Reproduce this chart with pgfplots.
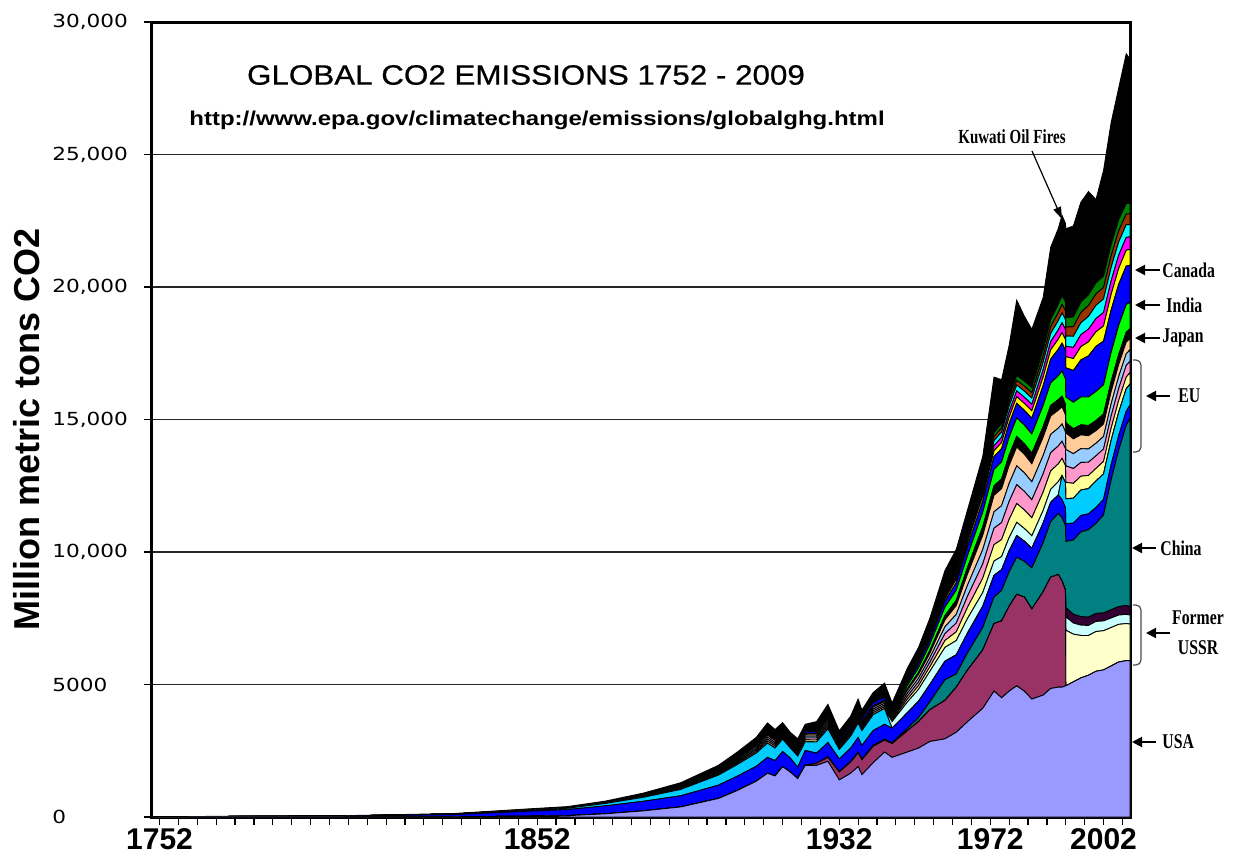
\documentclass[border=0pt]{standalone}
\usepackage{fontspec}
\setmainfont{Liberation Sans}
\newfontfamily\wsans[FakeStretch=1.2]{Liberation Sans}
\newfontfamily\tsans[FakeStretch=1.12, FakeBold=0.6]{Liberation Sans}
\newfontfamily\wdeja[FakeStretch=1.2]{DejaVu Sans}
\newfontfamily\nserif[FakeStretch=0.75]{Liberation Serif}
\usepackage{pgfplots}
\usepackage{pgfplotstable}
\pgfplotsset{compat=1.18}
\usetikzlibrary{arrows.meta}

% layer colours, bottom to top
\definecolor{cusa}{HTML}{9999FF}
\definecolor{cussr}{HTML}{993366}
\definecolor{crus}{HTML}{FFFFCC}
\definecolor{cfsu}{HTML}{CCFFFF}
\definecolor{cfsud}{HTML}{330033}
\definecolor{cchina}{HTML}{008080}
\definecolor{cuk}{HTML}{0000FF}
\definecolor{cger}{HTML}{00CCFF}
\definecolor{cwger}{HTML}{CCFFFF}
\definecolor{cea}{HTML}{FFFF99}
\definecolor{ceb}{HTML}{FF99CC}
\definecolor{cec}{HTML}{99CCFF}
\definecolor{ced}{HTML}{FFCC99}
\definecolor{cgrn}{HTML}{00FF00}
\definecolor{cblu}{HTML}{0000FF}
\definecolor{cyel}{HTML}{FFFF00}
\definecolor{cmag}{HTML}{FF00FF}
\definecolor{ccya}{HTML}{00FFFF}
\definecolor{cred}{HTML}{993300}
\definecolor{cdgr}{HTML}{008000}

% million metric tons CO2 per layer (stacked)
\pgfplotstableread{
yr usa ussr rus fsu fsud china uk ger wger ea eb ec ed blk grn blu yel mag cya red dgr top
1750 0 0 0 0 0 0 9 0 0 0 0 0 0 0 0 0 0 0 0 0 0 2
1800 2 0 0 0 0 0 30 3 0 1 1 1 1 0 0 0 0 0 0 0 0 8
1830 10 0 0 0 0 0 80 10 0 3 3 3 3 0 0 0 0 0 0 0 0 20
1850 30 0 0 0 0 0 190 35 0 6 6 6 6 0 0 0 0 0 0 0 0 30
1860 50 0 0 0 0 0 230 50 0 8 8 8 8 0 0 0 0 0 0 0 0 30
1870 120 0 0 0 0 0 300 90 0 12 12 12 12 0 0 0 0 0 0 0 0 40
1880 230 0 0 0 0 0 360 150 0 18 18 18 18 0 0 5 0 0 0 0 0 80
1890 380 0 0 0 0 0 420 240 0 28 28 28 28 0 0 10 0 0 0 0 0 130
1900 700 0 0 0 0 0 500 380 0 45 45 45 45 0 10 20 0 0 0 0 0 160
1905 1000 0 0 0 0 0 540 440 0 55 55 55 55 0 15 30 0 0 0 0 0 205
1910 1350 0 0 0 0 0 560 500 0 65 65 65 65 0 20 40 0 0 0 0 0 270
1913 1650 0 0 0 0 0 600 540 0 75 75 75 75 0 25 50 0 0 0 0 0 385
1915 1550 0 0 0 0 0 580 470 0 70 70 70 70 0 25 55 0 0 0 0 0 340
1917 1900 0 0 0 0 0 570 470 0 65 65 65 65 0 25 60 0 0 0 0 0 275
1919 1700 0 0 0 0 0 530 380 0 60 60 60 60 0 25 60 0 0 0 0 0 265
1921 1450 0 0 0 0 0 430 420 0 65 65 65 65 0 30 60 0 0 0 0 0 300
1923 1950 0 0 0 0 0 560 330 0 70 70 70 70 0 30 65 0 0 0 0 0 285
1926 1950 80 0 0 0 0 380 420 0 75 75 75 75 0 35 70 0 0 0 0 0 365
1929 2100 150 0 0 0 20 540 520 0 85 85 85 85 0 40 85 10 0 0 0 0 445
1932 1400 300 0 0 0 20 470 360 0 70 70 70 70 0 35 80 10 0 0 0 0 295
1935 1650 420 0 0 0 25 500 450 0 75 75 75 75 0 40 95 15 0 0 0 0 305
1937 1900 520 0 0 0 30 550 540 0 85 85 85 85 0 45 110 20 0 0 0 0 395
1938 1600 560 0 0 0 30 510 560 0 75 75 75 75 0 45 110 20 0 0 0 0 300
1941 2050 620 0 0 0 35 560 600 0 70 70 70 70 0 50 120 25 0 0 0 0 360
1944 2450 450 0 0 0 35 560 600 0 65 65 65 65 0 55 110 25 0 0 0 0 505
1946 2250 520 0 0 0 30 550 0 250 60 60 60 60 0 60 60 25 0 0 0 0 315
1950 2450 800 0 0 0 80 600 0 400 110 110 110 110 60 120 100 40 20 20 15 15 440
1953 2600 1000 0 0 0 150 620 0 450 140 140 140 140 80 170 130 55 30 30 25 25 475
1956 2850 1200 0 0 0 300 650 0 500 170 170 170 170 110 230 170 75 50 50 40 40 555
1960 2950 1450 0 0 0 780 700 0 520 260 260 260 260 160 320 220 100 80 80 60 60 780
1963 3200 1700 0 0 0 500 720 0 540 330 330 330 330 200 380 280 130 100 100 80 80 770
1966 3600 1950 0 0 0 650 750 0 550 420 420 420 420 250 450 340 160 130 130 100 100 760
1970 4100 2200 0 0 0 850 800 0 520 540 540 540 540 320 550 420 190 160 160 130 130 910
1973 4750 2550 0 0 0 1000 820 0 540 620 620 620 620 360 620 480 220 190 190 150 150 2100
1975 4500 2900 0 0 0 1150 780 0 500 640 640 640 640 370 640 500 230 200 200 160 160 1650
1977 4750 3200 0 0 0 1300 800 0 500 680 680 680 680 390 670 520 240 210 210 170 170 1950
1979 4950 3450 0 0 0 1400 820 0 500 710 710 710 710 400 700 550 250 220 220 180 180 2840
1981 4750 3550 0 0 0 1350 760 0 480 700 700 700 700 400 700 560 260 230 230 190 190 2450
1983 4450 3400 0 0 0 1550 740 0 470 680 680 680 680 400 720 600 280 240 240 200 200 2190
1986 4600 3900 0 0 0 1850 740 0 480 690 690 690 690 400 800 750 320 280 280 240 240 1960
1988 4850 4200 0 0 0 2100 730 0 490 690 690 690 690 400 850 900 350 310 310 260 260 2730
1990 4900 4250 0 0 0 2300 700 0 500 675 675 675 675 400 900 1000 380 350 350 300 320 2850
1991 4900 4000 0 0 0 2400 680 900 0 650 650 650 650 400 950 1050 400 370 370 320 330 3030
1991.9 4950 3600 0 0 0 2450 670 950 0 640 640 640 640 390 960 1080 410 380 380 330 340 2950
1992 4950 0 2100 500 350 2500 660 950 0 620 620 620 620 390 970 1100 420 390 390 340 350 3360
1994 5100 0 1800 420 330 2800 640 940 0 560 560 560 560 380 1000 1200 450 420 420 360 370 3430
1996 5250 0 1600 390 320 3200 620 960 0 520 520 520 520 380 1050 1400 500 450 450 390 390 3770
1998 5350 0 1500 380 310 3300 600 950 0 500 500 500 500 380 1080 1550 530 480 480 410 410 3890
2000 5500 0 1500 380 300 3400 600 1000 0 475 475 475 475 380 1100 1700 550 500 500 430 420 3140
2002 5550 0 1480 370 300 3700 590 960 0 470 470 470 470 380 1100 1650 570 510 510 430 430 3990
2004 5700 0 1450 360 310 4900 570 920 0 460 460 460 460 380 1100 1600 590 510 510 430 430 4600
2006 5850 0 1420 350 320 5900 550 880 0 450 450 450 450 380 1100 1550 600 500 500 420 420 4960
2008 5900 0 1400 350 330 6800 530 850 0 440 440 440 440 370 1050 1450 600 480 480 400 400 5650
2009 5900 0 1380 340 320 7100 500 800 0 430 430 430 430 360 1000 1400 600 470 470 400 400 5440
}\co

\newcommand{\layer}[2]{\addplot[fill=#2, draw=black, line width=0.45pt] table[x=yr, y=#1] {\co} \closedcycle;}

\begin{document}
\begin{tikzpicture}
\begin{axis}[
    scale only axis,
    width=489pt, height=397.5pt,
    xmin=1750, xmax=2009,
    ymin=0, ymax=30000,
    stack plots=y,
    clip=false,
    scaled y ticks=false,
    axis line style={line width=1.5pt},
    xtick={1752,1852,1932,1972,2002},
    xticklabels={1752,1852,1932,1972,2002},
    minor xtick={1752,1757,...,2007},
    ytick={0,5000,...,30000},
    yticklabels={0,5000,{10,000},{15,000},{20,000},{25,000},{30,000}},
    ymajorgrids,
    grid style={line width=0.9pt, black!85},
    xtick pos=bottom, ytick pos=left,
    tick align=outside,
    major tick length=4pt, minor tick length=4pt,
    tick style={black, line width=0.6pt},
    xticklabel style={font=\bfseries\fontsize{15}{15}\selectfont, yshift=2pt},
    yticklabel style={font=\wdeja\fontsize{9}{9}\selectfont, anchor=west, xshift=-46pt, inner sep=0pt},
    ylabel={Million metric tons CO2},
    ylabel style={font=\bfseries\fontsize{18}{18}\selectfont, at={(axis description cs:-0.128,0.487)}, anchor=center},
]
\layer{usa}{cusa}
\layer{ussr}{cussr}
\layer{rus}{crus}
\layer{fsu}{cfsu}
\layer{fsud}{cfsud}
\layer{china}{cchina}
\layer{uk}{cuk}
\layer{ger}{cger}
\layer{wger}{cwger}
\layer{ea}{cea}
\layer{eb}{ceb}
\layer{ec}{cec}
\layer{ed}{ced}
\layer{blk}{black}
\layer{grn}{cgrn}
\layer{blu}{cblu}
\layer{yel}{cyel}
\layer{mag}{cmag}
\layer{cya}{ccya}
\layer{red}{cred}
\layer{dgr}{cdgr}
\layer{top}{black}
\draw[line width=1.5pt] (rel axis cs:0,0) rectangle (rel axis cs:1,1);
\end{axis}

% titles
\node[font=\tsans\fontsize{14}{14}\selectfont] at (187pt,371pt) {GLOBAL CO2 EMISSIONS 1752 - 2009};
\node[font=\wsans\bfseries\fontsize{10}{10}\selectfont] at (192.5pt,348.5pt) {http://www.epa.gov/climatechange/emissions/globalghg.html};

% annotations
\tikzset{arr/.style={line width=1pt, -{Triangle[length=5pt,width=5pt]}},
         lab/.style={font=\nserif\bfseries\fontsize{10.5}{15}\selectfont, inner sep=0pt},
         brk/.style={black!70, line width=0.6pt, rounded corners=2.5pt}}
\node[font=\nserif\bfseries\fontsize{10}{10}\selectfont] at (430pt,340pt) {Kuwati Oil Fires};
\draw[line width=0.6pt, -{Triangle[length=6pt,width=4pt]}] (440pt,333pt) -- (455pt,299pt);

\draw[arr] (504pt,273.5pt) -- (491.5pt,273.5pt);
\node[lab, anchor=west] at (505pt,273.5pt) {Canada};
\draw[arr] (504pt,256pt) -- (491.5pt,256pt);
\node[lab, anchor=west] at (507pt,256pt) {India};
\draw[arr] (504pt,239.5pt) -- (491.5pt,239.5pt);
\node[lab, anchor=west] at (505pt,239.5pt) {Japan};
\draw[brk] (490.5pt,228.5pt) -- (494.5pt,228.5pt) -- (494.5pt,182.5pt) -- (490.5pt,182.5pt);
\draw[arr] (509pt,210.5pt) -- (497pt,210.5pt);
\node[lab, anchor=west] at (513pt,210.5pt) {EU};
\draw[arr] (502pt,134.5pt) -- (490pt,134.5pt);
\node[lab, anchor=west] at (504pt,134.5pt) {China};
\draw[brk] (490.5pt,106pt) -- (494.5pt,106pt) -- (494.5pt,76pt) -- (490.5pt,76pt);
\draw[arr] (509pt,92pt) -- (497pt,92pt);
\node[lab, align=center] at (523pt,92pt) {Former\\USSR};
\draw[arr] (502pt,37.5pt) -- (490pt,37.5pt);
\node[lab, anchor=west] at (505pt,37.5pt) {USA};

\pgfresetboundingbox
\path (-76pt,-21pt) rectangle (545pt,408.5pt);
\end{tikzpicture}
\end{document}
